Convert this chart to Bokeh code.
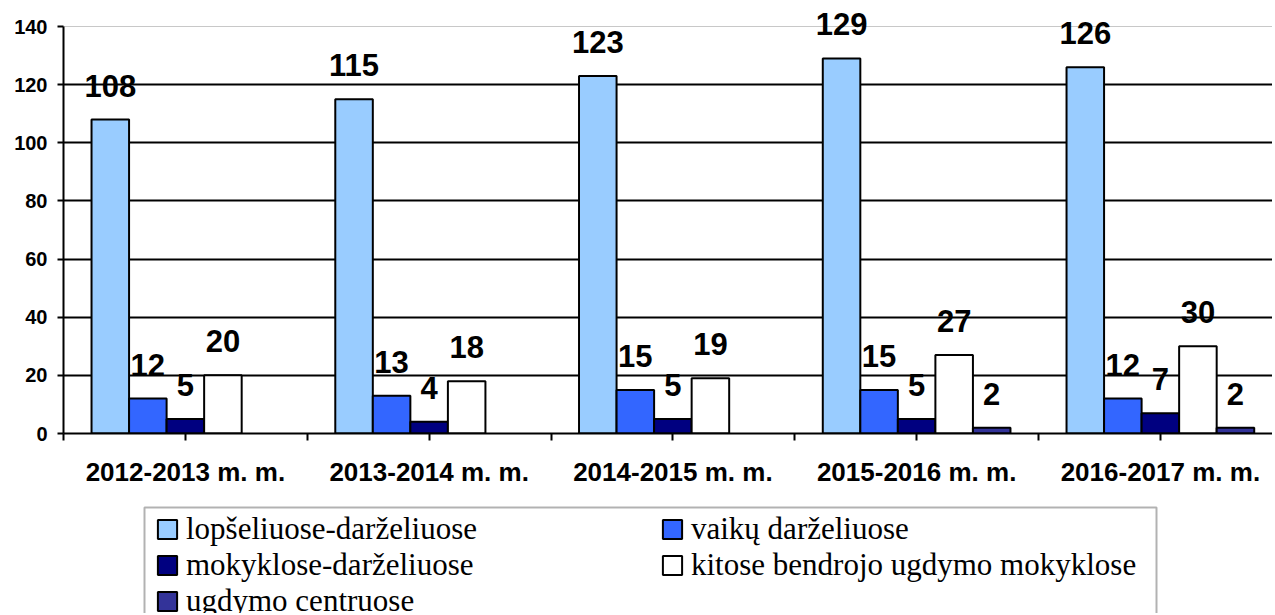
from bokeh.plotting import figure
from bokeh.layouts import column
from bokeh.models import (ColumnDataSource, Range1d, FixedTicker, Grid, Legend, LegendItem,
                          BoxAnnotation)
from bokeh.transform import dodge
from bokeh.core.properties import value
from bokeh.embed import file_html
from bokeh.resources import INLINE

categories = ["2012-2013 m. m.", "2013-2014 m. m.", "2014-2015 m. m.",
              "2015-2016 m. m.", "2016-2017 m. m."]
series_names = ["lopšeliuose-darželiuose", "vaikų darželiuose", "mokyklose-darželiuose",
                "kitose bendrojo ugdymo mokyklose", "ugdymo centruose"]
lopseliuose = [108, 115, 123, 129, 126]
vaiku_darzeliuose = [12, 13, 15, 15, 12]
mokyklose = [5, 4, 5, 5, 7]
kitose_mokyklose = [20, 18, 19, 27, 30]
ugdymo_centruose = [0, 0, 0, 2, 2]
y_ticks = [0, 20, 40, 60, 80, 100, 120, 140]
colors = ["#99CCFF", "#3366FF", "#000080", "#FFFFFF", "#333399"]

series = [lopseliuose, vaiku_darzeliuose, mokyklose, kitose_mokyklose, ugdymo_centruose]
BW = 0.154
W = 1272
H1 = 494
H2 = 119
FRAME_LEFT = 63
AXIS_TOP_GAP = 26      # px between frame top and the 140 line
AXIS_H = 407           # px from 0 to 140
CAT_PX = 243.75
y_max = y_ticks[-1]
y_end = y_max * (AXIS_H + AXIS_TOP_GAP) / AXIS_H

p = figure(width=W, height=H1,
           x_range=Range1d(0, (W - FRAME_LEFT) / CAT_PX), y_range=Range1d(0, y_end),
           output_backend="svg", toolbar_location=None,
           min_border_left=FRAME_LEFT, min_border_right=0, min_border_top=0,
           min_border_bottom=H1 - AXIS_TOP_GAP - AXIS_H)
p.outline_line_color = None
p.background_fill_color = "white"

# legend strip below the chart (its x/y ranges are in pixels)
FRAME_W = W - FRAME_LEFT
p2 = figure(width=W, height=H2, x_range=Range1d(0, FRAME_W), y_range=Range1d(0, H2),
            output_backend="svg", toolbar_location=None,
            x_axis_type=None, y_axis_type=None,
            min_border_left=FRAME_LEFT, min_border_right=0, min_border_top=0, min_border_bottom=0)
p2.outline_line_color = None
p2.xgrid.visible = False
p2.ygrid.visible = False

centers = [i + 0.5 for i in range(len(categories))]
bounds = [float(i) for i in range(len(categories) + 1)]

items = []
for k, (name, vals, col) in enumerate(zip(series_names, series, colors)):
    keep = [i for i, v in enumerate(vals) if v > 0]
    src = ColumnDataSource(dict(x=[centers[i] for i in keep],
                                y=[vals[i] for i in keep],
                                lbl=[str(vals[i]) for i in keep]))
    off = (k - 2) * BW
    p.vbar(x=dodge("x", off), top="y", width=BW, source=src,
           fill_color=col, line_color="black", line_width=2)
    p.text(x=dodge("x", off), y="y", text="lbl", source=src,
           text_font=value("Liberation Sans"), text_font_style="bold",
           text_font_size="31px", text_align="center", text_baseline="alphabetic",
           y_offset=-34, text_color="black")
    r2 = p2.vbar(x=dodge("x", off), top="y", width=BW, source=src,
                 fill_color=col, line_color="black", line_width=2, visible=False)
    items.append(LegendItem(label=name, renderers=[r2]))

# x axis
p.xaxis.ticker = FixedTicker(ticks=sorted(bounds + centers))
overrides = {b: "" for b in bounds}
overrides.update({c: cat for c, cat in zip(centers, categories)})
p.xaxis.major_label_overrides = overrides
p.xaxis.major_tick_out = 7
p.xaxis.major_tick_in = 0
p.xaxis.minor_tick_line_color = None
p.xaxis.axis_line_width = 2
p.xaxis.axis_line_color = "black"
p.xaxis.major_tick_line_width = 2
p.xaxis.major_tick_line_color = "black"
p.xaxis.major_label_text_font = "Liberation Sans"
p.xaxis.major_label_text_font_style = "bold"
p.xaxis.major_label_text_font_size = "26px"
p.xaxis.major_label_text_color = "black"
p.xaxis.major_label_standoff = 16

# y axis
p.yaxis.ticker = FixedTicker(ticks=y_ticks)
p.yaxis.bounds = (y_ticks[0], y_ticks[-1])
p.yaxis.major_tick_out = 6
p.yaxis.major_tick_in = 0
p.yaxis.minor_tick_line_color = None
p.yaxis.axis_line_width = 2
p.yaxis.axis_line_color = "black"
p.yaxis.major_tick_line_width = 2
p.yaxis.major_tick_line_color = "black"
p.yaxis.major_label_text_font = "Liberation Sans"
p.yaxis.major_label_text_font_style = "bold"
p.yaxis.major_label_text_font_size = "20px"
p.yaxis.major_label_text_color = "black"
p.yaxis.major_label_standoff = 10

# grids
p.xgrid.visible = False
p.ygrid.ticker = FixedTicker(ticks=y_ticks[1:-1])
p.ygrid.grid_line_color = "black"
p.ygrid.grid_line_width = 2
top_grid = Grid(dimension=1, ticker=FixedTicker(ticks=y_ticks[-1:]),
                grid_line_color="#C8C8C8", grid_line_width=1)
p.add_layout(top_grid)

# legend: frame box + two columns
BOX_LEFT, BOX_RIGHT, BOX_TOP = 145, 1157, 508     # page pixels
PAGE_X0, P2_TOP = 64, 495
box = BoxAnnotation(left=BOX_LEFT - PAGE_X0, right=BOX_RIGHT - PAGE_X0,
                    top=H2 - (BOX_TOP - P2_TOP), bottom=-20,
                    fill_color=None, fill_alpha=0, line_color="black", line_width=2)
p2.add_layout(box)

ROW_H = 36
ROW1_TOP = 512 - P2_TOP
GLYPH = 24
common = dict(label_text_font="Liberation Serif", label_text_font_size="31px",
              label_text_color="black", label_standoff=7, label_height=ROW_H,
              glyph_width=GLYPH, glyph_height=GLYPH, spacing=0, padding=0, margin=0,
              border_line_color=None, background_fill_alpha=0.0,
              inactive_fill_alpha=0.0)
col1_items = items[0::2]
col2_items = items[1::2]
leg1 = Legend(items=col1_items,
              location=(156 - PAGE_X0, H2 - ROW1_TOP - ROW_H * len(col1_items)), **common)
leg2 = Legend(items=col2_items,
              location=(661 - PAGE_X0, H2 - ROW1_TOP - ROW_H * len(col2_items)), **common)
p2.add_layout(leg1)
p2.add_layout(leg2)

layout = column(p, p2, spacing=0)
open("out.html", "w").write(file_html(layout, INLINE))
